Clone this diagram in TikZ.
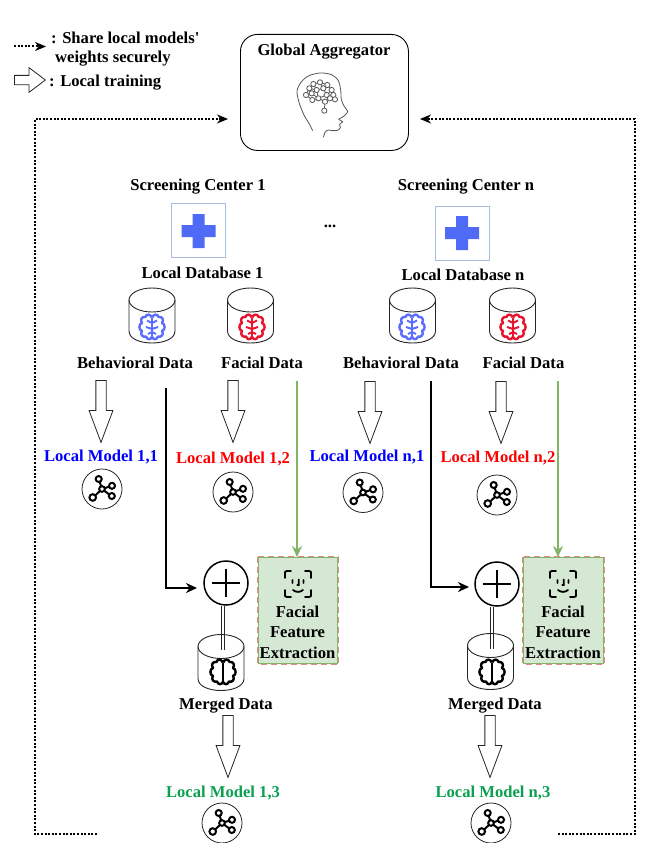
\documentclass[tikz,border=0pt]{standalone}
\usepackage{fontspec}
\setmainfont{Liberation Serif}
\usetikzlibrary{arrows.meta,shapes.arrows,calc}
\definecolor{crossblue}{HTML}{4F6BF5}
\definecolor{squareblue}{HTML}{A9BEDF}
\definecolor{brainblue}{HTML}{5B6CFF}
\definecolor{brainred}{HTML}{E8142D}
\definecolor{modelgreen}{HTML}{0AA050}
\definecolor{boxgreen}{HTML}{D5E8D4}
\definecolor{edgegreen}{HTML}{82B366}
\definecolor{edgered}{HTML}{E08A88}
\definecolor{headgray}{HTML}{555555}
\tikzset{
  lbl/.style={font=\fontsize{16.6}{20}\selectfont\bfseries,inner sep=0pt,text=black,yshift=-1.5pt},
  lblb/.style={lbl,text=blue},
  lblr/.style={lbl,text=red},
  lblg/.style={lbl,text=modelgreen},
  hollowdown/.style={draw=black!85,line width=0.8pt,single arrow,shape border rotate=270,inner sep=4.75pt,
    minimum height=62pt,single arrow head extend=6.75pt,single arrow tip angle=41,anchor=tail},
  hollowright/.style={draw=black!85,line width=0.8pt,single arrow,inner sep=4.25pt,
    minimum height=31pt,single arrow head extend=7.75pt,single arrow tip angle=74,anchor=tail},
  dotline/.style={line width=2pt,dash pattern=on 2pt off 1.6pt},
  dothead/.style={-{Stealth[length=11pt,width=9pt]}},
  blackline/.style={line width=2.1pt,black},
  greenline/.style={line width=1.8pt,edgegreen},
  pluscirc/.style={circle,draw=black,line width=1.5pt,minimum size=44pt,inner sep=0pt},
  pics/brain/.style={code={
    \foreach \s in {1,-1}{
      \begin{scope}[xscale=\s]
      \draw[#1,line width=2.4pt,line join=round]
        (0.3,-9.5) .. controls (1,-13) and (6,-13.5) .. (6.5,-10)
        .. controls (10,-11) and (12.5,-7) .. (10,-4)
        .. controls (13.5,-3) and (13.5,3) .. (10,4)
        .. controls (12.5,7) and (9,11) .. (6,9.5)
        .. controls (5,13) and (1,13) .. (0.3,10);
      \end{scope}}
    \draw[#1,line width=2.4pt] (0,-9.5) -- (0,10);
  }},
  pics/branch/.style={code={
    \foreach \s in {1,-1}{
      \begin{scope}[xscale=\s]
      \draw[#1,line width=2pt] (0,-4) -- (5,-6.5) (0,2) -- (6,0) (0,5) -- (4,7);
      \end{scope}}
  }},
  pics/cyl/.style={code={
    \draw[black!85,line width=0.9pt] (0,0) ellipse [x radius=23,y radius=12];
    \draw[black!85,line width=0.9pt] (-23,0) -- (-23,#1)
      .. controls (-23,#1+16) and (23,#1+16) .. (23,#1) -- (23,0);
  }},
  pics/model/.style={code={
    \draw[black!85,line width=0.8pt] (0,0) circle (20);
    \draw[black,line width=2pt] (0,0) -- (-2.4,-7.6) (0,0) -- (7.4,-2.4) (0,0) -- (7.4,5.6) (0,0) -- (-6.5,6.2);
    \draw[black,line width=2pt,fill=white] (0,0) circle (2.8) (-3.3,-10) circle (3) (10,-3.2) circle (3)
      (9.8,7) circle (3) (-9.3,8.5) circle (3.3);
  }},
  pics/faceid/.style={code={
    \draw[black,line width=1.8pt,line cap=round]
      (-13,-6) -- (-13,-11) .. controls (-13,-12.5) .. (-11,-13) -- (-7,-13)
      (13,-6) -- (13,-11) .. controls (13,-12.5) .. (11,-13) -- (7,-13)
      (-13,6) -- (-13,11) .. controls (-13,12.5) .. (-11,13) -- (-7,13)
      (13,6) -- (13,11) .. controls (13,12.5) .. (11,13) -- (7,13)
      (-5.5,-4) -- (-5.5,-1) (5.5,-4) -- (5.5,-1)
      (0.8,-4.5) -- (0.8,1) -- (-0.8,1)
      (-5,6) .. controls (-2,8.5) and (2,8.5) .. (5,6);
  }},
  pics/head/.style={code={
    \begin{scope}[shift={(280,60)},x=0.3333pt,y=-0.3333pt,line width=0.8pt,draw=headgray]
    \draw[smooth] plot coordinates {(98,212) (88,192) (72,165) (58,130) (51,95) (62,68) (85,48) (120,39) (155,44) (175,62) (182,90) (184,118) (192,138) (203,155) (192,168) (176,178)};
    \draw (176,178) -- (188,185) -- (179,193) -- (181,203) .. controls (178,213) and (165,214) .. (145,210) .. controls (135,212) and (132,222) .. (130,232);
    \draw (100,72)--(120,67)--(142,75)--(155,90)--(160,105)--(165,118)--(150,115)--(135,125)--(115,115)--(97,120)--(78,105)--(88,85)--(100,72)--(110,90)--(130,85)--(120,67)
      (88,85)--(110,90)--(95,100)--(78,105) (95,100)--(115,115)--(110,90) (130,85)--(140,105)--(115,115) (130,85)--(142,75) (140,105)--(155,90) (140,105)--(160,105) (135,125)--(133,152) (150,115)--(140,105);
    \foreach \p/\r in {100/72,120/67,142/75,88/85,110/90,130/85,155/90,78/105,95/100,115/115,140/105,160/105,97/120,135/125,150/115,165/118,133/152}
      \draw[fill=white] (\p,\r) circle (2.6pt);
    \end{scope}
  }},
}
\begin{document}
\begin{tikzpicture}[x=1pt,y=-1pt]
\useasboundingbox (0,0) rectangle (649,843);

% legend
\coordinate (legA) at (14,46.5); \coordinate (legB) at (46,46.5);
\draw[dotline,dothead] (legA) -- (legB);
\node[lbl,anchor=west] (legt1) at (51,36) {: Share local models\textquotesingle};
\node[lbl,anchor=west] (legt2) at (55,57) {weights securely};
\node[hollowright] (legarrow) at (14,80) {};
\node[lbl,anchor=west] (legt3) at (49,81) {: Local training};

% global aggregator
\node[draw=black,line width=0.9pt,rounded corners=17pt,minimum width=168pt,minimum height=116pt,anchor=north west,inner sep=0pt] (global) at (240,34) {};
\node[lbl] (globalt) at (324,50) {Global Aggregator};
\pic (headicon) at (0,0) {head};

% dotted feedback
\coordinate (fbL) at (97,834); \coordinate (fbLc) at (35,834); \coordinate (fbLt) at (228,119);
\coordinate (fbR) at (558,834); \coordinate (fbRc) at (635,834); \coordinate (fbRt) at (420,119);
\draw[dotline,dothead] (fbL) -- (fbLc) -- (fbLc |- fbLt) -- (fbLt);
\draw[dotline,dothead] (fbR) -- (fbRc) -- (fbRc |- fbRt) -- (fbRt);

% centres
\node[lbl] (sc1) at (198,185) {Screening Center 1};
\node[lbl] (scn) at (466,185) {Screening Center n};
\node[lbl] (dots) at (330,225) {...};

\node[draw=squareblue,line width=1pt,minimum size=54pt,inner sep=0pt] (sq1) at (198.5,230.5) {};
\fill[crossblue] (192.5,214) rectangle (204.5,248) (181.5,225) rectangle (215.5,237);
\node[draw=squareblue,line width=1pt,minimum size=54pt,inner sep=0pt] (sqn) at (462,233) {};
\fill[crossblue] (456,216) rectangle (468,250) (445,227) rectangle (479,239);

\node[lbl] (db1) at (202.5,271.5) {Local Database 1};
\node[lbl] (dbn) at (463,273) {Local Database n};

% cylinders top
\pic (c11) at (152,300) {cyl=31};
\pic (b11) at (152,327) {brain=brainblue};
\pic (bb11) at (152,327) {branch=brainblue};
\pic (c12) at (250.5,300) {cyl=31};
\pic (b12) at (252,327) {brain=brainred};
\pic (bb12) at (252,327) {branch=brainred};
\pic (cn1) at (412.5,300) {cyl=31};
\pic (bn1) at (412,327) {brain=brainblue};
\pic (bbn1) at (412,327) {branch=brainblue};
\pic (cn2) at (512.5,300) {cyl=31};
\pic (bn2) at (513,327) {brain=brainred};
\pic (bbn2) at (513,327) {branch=brainred};

\node[lbl] (bd1) at (135,361) {Behavioral Data};
\node[lbl] (fd1) at (262,361) {Facial Data};
\node[lbl] (bdn) at (401,361) {Behavioral Data};
\node[lbl] (fdn) at (523.5,361) {Facial Data};

% hollow arrows
\node[hollowdown] (a11) at (101,380) {};
\node[hollowdown] (a12) at (233,380) {};
\node[hollowdown] (an1) at (370,381) {};
\node[hollowdown] (an2) at (501,381) {};
\node[hollowdown] (a13) at (228,715) {};
\node[hollowdown] (an3) at (490,715) {};

% models
\node[lblb] (m11) at (101,456) {Local Model 1,1};
\node[lblr] (m12) at (233,458) {Local Model 1,2};
\node[lblb] (mn1) at (367,456) {Local Model n,1};
\node[lblr] (mn2) at (498,457) {Local Model n,2};
\node[lblg] (m13) at (223,792) {Local Model 1,3};
\node[lblg] (mn3) at (493,792) {Local Model n,3};
\pic (i11) at (102,489) {model};
\pic (i12) at (233,492) {model};
\pic (in1) at (363,492.5) {model};
\pic (in2) at (497,495) {model};
\pic (i13) at (222,823) {model};
\pic (in3) at (491,823) {model};

% feature boxes
\draw[edgered,line width=1.5pt,dash pattern=on 6pt off 4pt] (258,557) rectangle (338.5,664.5);
\node[draw=edgegreen,fill=boxgreen,line width=1.4pt,minimum width=79pt,minimum height=106pt,inner sep=0pt,anchor=north west] (fb1) at (258,557) {};
\draw[edgered,line width=1.5pt,dash pattern=on 6pt off 4pt] (523,557) rectangle (604,664.5);
\node[draw=edgegreen,fill=boxgreen,line width=1.4pt,minimum width=79.5pt,minimum height=106pt,inner sep=0pt,anchor=north west] (fbn) at (523,557) {};
\pic (f1) at (298,584) {faceid};
\pic (fn) at (563,584) {faceid};
\node[lbl] (ft11) at (297.5,610) {Facial};
\node[lbl] (ft12) at (297.5,631) {Feature};
\node[lbl] (ft13) at (297.5,651) {Extraction};
\node[lbl] (ftn1) at (563,610) {Facial};
\node[lbl] (ftn2) at (563,631) {Feature};
\node[lbl] (ftn3) at (563,651) {Extraction};

% merged
\pic (cm1) at (221,646.5) {cyl=32};
\pic (bm1) at (223,672) {brain=black};
\pic (cmn) at (490.5,645.5) {cyl=32};
\pic (bmn) at (492,672) {brain=black};
\node[pluscirc] (p1) at (226,583) {};
\node[pluscirc] (pn) at (497,584) {};
\draw[black,line width=1.3pt] (p1.center) ++(-14,0) -- ++(28,0) (p1.center) ++(0,-14) -- ++(0,28);
\draw[black,line width=1.3pt] (pn.center) ++(-14,0) -- ++(28,0) (pn.center) ++(0,-14) -- ++(0,28);
\node[lbl] (md1) at (226,704) {Merged Data};
\node[lbl] (mdn) at (495,704) {Merged Data};

\coordinate (dl1) at (221.7,650); \coordinate (dln) at (490.7,649);
\coordinate (dm1) at (224.3,650); \coordinate (dmn) at (493.3,649);
\draw[black!85,line width=0.8pt] (p1.south -| dl1) -- (dl1) (p1.south -| dm1) -- (dm1);
\draw[black!85,line width=0.8pt] (pn.south -| dln) -- (dln) (pn.south -| dmn) -- (dmn);

% connectors
\coordinate (bs1) at (166,388); \coordinate (be1) at (197,588);
\coordinate (bsn) at (431,381); \coordinate (ben) at (469,587);
\draw[blackline,-{Stealth[length=11pt,width=10pt]}] (bs1) |- (be1);
\draw[blackline,-{Stealth[length=11pt,width=10pt]}] (bsn) |- (ben);
\coordinate (gs1) at (297,381); \coordinate (gsn) at (558,381);
\draw[greenline,-{Stealth[length=11pt,width=10pt]}] (gs1) -- (gs1 |- fb1.north);
\draw[greenline,-{Stealth[length=11pt,width=10pt]}] (gsn) -- (gsn |- fbn.north);
\end{tikzpicture}
\end{document}
